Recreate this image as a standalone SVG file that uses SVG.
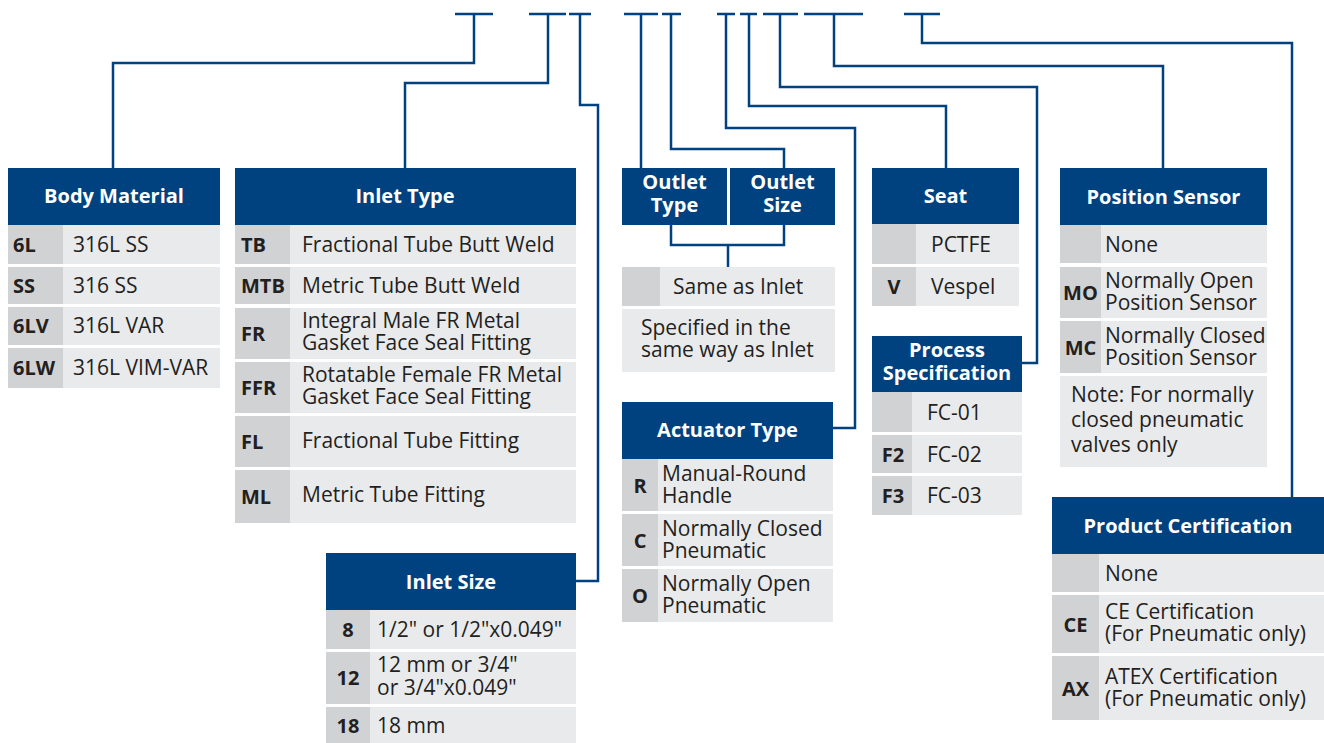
<svg xmlns="http://www.w3.org/2000/svg" width="1324" height="743" viewBox="0 0 1324 743">
<style>
.hd{fill:#00427f}
.cc{fill:#d1d2d4}
.vc{fill:#e9eaec}
.ht{font-family:"Open Sans","Noto Sans",sans-serif;font-weight:bold;font-size:20px;fill:#fff;text-anchor:middle}
.cd{font-family:"Open Sans","Noto Sans",sans-serif;font-weight:bold;font-size:20px;fill:#231f20}
.cm{text-anchor:middle}
.tx{font-family:"Open Sans","Noto Sans",sans-serif;font-size:21px;fill:#231f20}
.ln{fill:none;stroke:#00427f;stroke-width:2.5}
</style>
<rect width="1324" height="743" fill="#fff"/>
<g id="connectors" class="ln">
<path d="M455 14H493M529 14H566M569 14H591M624 14H658M662 14H681M717 14H735M740 14H757M763 14H798M804 14H863M904 14H940"/>
<polyline points="474,14 474,63 113,63 113,168"/>
<polyline points="548,14 548,83 405,83 405,168"/>
<polyline points="580,14 580,105 598,105 598,581 576,581"/>
<polyline points="641,14 641,168"/>
<polyline points="671,14 671,149 784,149 784,168"/>
<polyline points="726,14 726,128 855,128 855,428 833,428"/>
<polyline points="749,14 749,106 946,106 946,168"/>
<polyline points="780,14 780,87 1037,87 1037,363 1022,363"/>
<polyline points="834,14 834,66 1163,66 1163,168"/>
<polyline points="922,14 922,43 1292,43 1292,497"/>
<polyline points="671,225 671,245 784,245 784,225"/>
<polyline points="728,245 728,267"/>
</g>
<g id="body-material">
<rect class="hd" x="8" y="168" width="212" height="57"/>
<text class="ht" x="114" y="203">Body Material</text>
<rect class="cc" x="8" y="225" width="55" height="39"/><rect class="vc" x="63" y="225" width="157" height="39"/>
<rect class="cc" x="8" y="267" width="55" height="37"/><rect class="vc" x="63" y="267" width="157" height="37"/>
<rect class="cc" x="8" y="307" width="55" height="38"/><rect class="vc" x="63" y="307" width="157" height="38"/>
<rect class="cc" x="8" y="348" width="55" height="40"/><rect class="vc" x="63" y="348" width="157" height="40"/>
<text class="cd" x="13" y="252">6L</text><text class="tx" x="73" y="252">316L SS</text>
<text class="cd" x="13" y="293">SS</text><text class="tx" x="73" y="293">316 SS</text>
<text class="cd" x="13" y="333">6LV</text><text class="tx" x="73" y="333">316L VAR</text>
<text class="cd" x="13" y="375">6LW</text><text class="tx" x="73" y="375">316L VIM-VAR</text>
</g>
<g id="inlet-type">
<rect class="hd" x="235" y="168" width="341" height="57"/>
<text class="ht" x="405" y="203">Inlet Type</text>
<rect class="cc" x="235" y="225" width="55" height="39"/><rect class="vc" x="290" y="225" width="286" height="39"/>
<rect class="cc" x="235" y="267" width="55" height="37"/><rect class="vc" x="290" y="267" width="286" height="37"/>
<rect class="cc" x="235" y="308" width="55" height="51"/><rect class="vc" x="290" y="308" width="286" height="51"/>
<rect class="cc" x="235" y="362" width="55" height="51"/><rect class="vc" x="290" y="362" width="286" height="51"/>
<rect class="cc" x="235" y="416" width="55" height="51"/><rect class="vc" x="290" y="416" width="286" height="51"/>
<rect class="cc" x="235" y="470" width="55" height="53"/><rect class="vc" x="290" y="470" width="286" height="53"/>
<text class="cd" x="241" y="252">TB</text><text class="tx" x="302" y="252">Fractional Tube Butt Weld</text>
<text class="cd" x="241" y="293">MTB</text><text class="tx" x="302" y="293">Metric Tube Butt Weld</text>
<text class="cd" x="241" y="341">FR</text><text class="tx" x="302" y="328">Integral Male FR Metal</text><text class="tx" x="302" y="350">Gasket Face Seal Fitting</text>
<text class="cd" x="241" y="395">FFR</text><text class="tx" x="302" y="382">Rotatable Female FR Metal</text><text class="tx" x="302" y="404">Gasket Face Seal Fitting</text>
<text class="cd" x="241" y="449">FL</text><text class="tx" x="302" y="448">Fractional Tube Fitting</text>
<text class="cd" x="241" y="504">ML</text><text class="tx" x="302" y="502">Metric Tube Fitting</text>
</g>
<g id="inlet-size">
<rect class="hd" x="326" y="553" width="250" height="57"/>
<text class="ht" x="451" y="589">Inlet Size</text>
<rect class="cc" x="326" y="610" width="44" height="39"/><rect class="vc" x="370" y="610" width="206" height="39"/>
<rect class="cc" x="326" y="652" width="44" height="52"/><rect class="vc" x="370" y="652" width="206" height="52"/>
<rect class="cc" x="326" y="707" width="44" height="36"/><rect class="vc" x="370" y="707" width="206" height="36"/>
<text class="cd cm" x="348" y="637">8</text><text class="tx" x="377" y="637">1/2" or 1/2"x0.049"</text>
<text class="cd cm" x="348" y="685">12</text><text class="tx" x="377" y="672">12 mm or 3/4"</text><text class="tx" x="377" y="695">or 3/4"x0.049"</text>
<text class="cd cm" x="348" y="733">18</text><text class="tx" x="377" y="733">18 mm</text>
</g>
<g id="outlet">
<rect class="hd" x="622" y="168" width="105" height="57"/>
<rect class="hd" x="730" y="168" width="105" height="57"/>
<text class="ht" x="674.5" y="189">Outlet</text><text class="ht" x="674.5" y="212">Type</text>
<text class="ht" x="782.5" y="189">Outlet</text><text class="ht" x="782.5" y="212">Size</text>
<rect class="cc" x="622" y="267" width="38" height="39"/><rect class="vc" x="660" y="267" width="175" height="39"/>
<rect class="vc" x="622" y="309" width="213" height="63"/>
<text class="tx" x="673" y="294">Same as Inlet</text>
<text class="tx" x="641" y="335">Specified in the</text>
<text class="tx" x="641" y="357">same way as Inlet</text>
</g>
<g id="actuator-type">
<rect class="hd" x="622" y="402" width="211" height="57"/>
<text class="ht" x="727.5" y="437">Actuator Type</text>
<rect class="cc" x="622" y="459" width="36" height="52"/><rect class="vc" x="658" y="459" width="175" height="52"/>
<rect class="cc" x="622" y="514" width="36" height="52"/><rect class="vc" x="658" y="514" width="175" height="52"/>
<rect class="cc" x="622" y="569" width="36" height="53"/><rect class="vc" x="658" y="569" width="175" height="53"/>
<text class="cd cm" x="640" y="493">R</text><text class="tx" x="662" y="481">Manual-Round</text><text class="tx" x="662" y="503">Handle</text>
<text class="cd cm" x="640" y="548">C</text><text class="tx" x="662" y="536">Normally Closed</text><text class="tx" x="662" y="558">Pneumatic</text>
<text class="cd cm" x="640" y="603">O</text><text class="tx" x="662" y="591">Normally Open</text><text class="tx" x="662" y="613">Pneumatic</text>
</g>
<g id="seat">
<rect class="hd" x="872" y="168" width="147" height="56"/>
<text class="ht" x="945.5" y="203">Seat</text>
<rect class="cc" x="872" y="224" width="44" height="40"/><rect class="vc" x="916" y="224" width="103" height="40"/>
<rect class="cc" x="872" y="267" width="44" height="39"/><rect class="vc" x="916" y="267" width="103" height="39"/>
<text class="tx" x="931" y="252">PCTFE</text>
<text class="cd cm" x="894" y="294">V</text><text class="tx" x="931" y="294">Vespel</text>
</g>
<g id="process-specification">
<rect class="hd" x="872" y="336" width="150" height="56"/>
<text class="ht" x="947" y="357">Process</text><text class="ht" x="947" y="380">Specification</text>
<rect class="cc" x="872" y="392" width="40" height="40"/><rect class="vc" x="912" y="392" width="110" height="40"/>
<rect class="cc" x="872" y="435" width="40" height="38"/><rect class="vc" x="912" y="435" width="110" height="38"/>
<rect class="cc" x="872" y="476" width="40" height="39"/><rect class="vc" x="912" y="476" width="110" height="39"/>
<text class="tx" x="927" y="420">FC-01</text>
<text class="cd cm" x="893" y="462">F2</text><text class="tx" x="927" y="462">FC-02</text>
<text class="cd cm" x="893" y="503">F3</text><text class="tx" x="927" y="503">FC-03</text>
</g>
<g id="position-sensor">
<rect class="hd" x="1060" y="168" width="207" height="57"/>
<text class="ht" x="1163.5" y="204">Position Sensor</text>
<rect class="cc" x="1060" y="225" width="41" height="38"/><rect class="vc" x="1101" y="225" width="166" height="38"/>
<rect class="cc" x="1060" y="267" width="41" height="51"/><rect class="vc" x="1101" y="267" width="166" height="51"/>
<rect class="cc" x="1060" y="321" width="41" height="52"/><rect class="vc" x="1101" y="321" width="166" height="52"/>
<rect class="vc" x="1060" y="376" width="207" height="91"/>
<text class="tx" x="1105" y="252">None</text>
<text class="cd cm" x="1080.5" y="300">MO</text><text class="tx" x="1105" y="288">Normally Open</text><text class="tx" x="1105" y="310">Position Sensor</text>
<text class="cd cm" x="1080.5" y="355">MC</text><text class="tx" x="1105" y="343">Normally Closed</text><text class="tx" x="1105" y="365">Position Sensor</text>
<text class="tx" x="1071" y="402">Note: For normally</text>
<text class="tx" x="1071" y="427">closed pneumatic</text>
<text class="tx" x="1071" y="452">valves only</text>
</g>
<g id="product-certification">
<rect class="hd" x="1052" y="497" width="272" height="57"/>
<text class="ht" x="1188" y="533">Product Certification</text>
<rect class="cc" x="1052" y="554" width="47" height="38"/><rect class="vc" x="1099" y="554" width="225" height="38"/>
<rect class="cc" x="1052" y="595" width="47" height="58"/><rect class="vc" x="1099" y="595" width="225" height="58"/>
<rect class="cc" x="1052" y="656" width="47" height="64"/><rect class="vc" x="1099" y="656" width="225" height="64"/>
<text class="tx" x="1105" y="581">None</text>
<text class="cd cm" x="1075.5" y="632">CE</text><text class="tx" x="1105" y="619">CE Certification</text><text class="tx" x="1105" y="641">(For Pneumatic only)</text>
<text class="cd cm" x="1075.5" y="696">AX</text><text class="tx" x="1105" y="684">ATEX Certification</text><text class="tx" x="1105" y="706">(For Pneumatic only)</text>
</g>
</svg>
